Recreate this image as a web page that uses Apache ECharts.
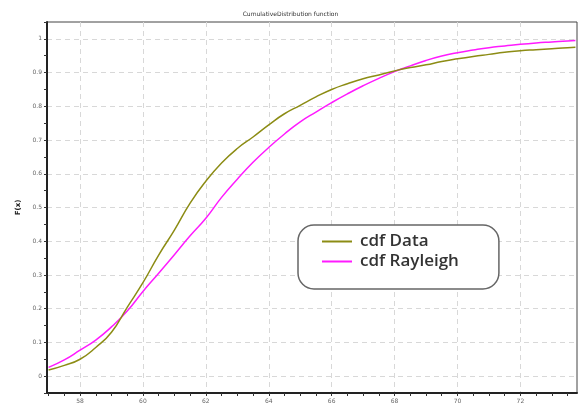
<!DOCTYPE html>
<html>
<head>
<meta charset="utf-8">
<script src="https://cdn.jsdelivr.net/npm/echarts@6/dist/echarts.min.js"></script>
<style>
html, body { margin: 0; padding: 0; background: #fff; }
#chart { width: 581px; height: 409px; }
</style>
</head>
<body>
<div id="chart"></div>
<script>
// x samples shared by both curves
const xValues = [57.0, 57.5, 58.0, 58.5, 59.0, 59.5, 60.0, 60.5, 61.0, 61.5, 62.0, 62.5, 63.0, 63.5, 64.0, 64.5, 65.0, 65.5,
	66.0, 66.5, 67.0, 67.5, 68.0, 68.5, 69.0, 69.5, 70.0, 70.5, 71.0, 71.5, 72.0, 72.5, 73.0, 73.5, 73.75]
// empirical cdf
const cdfData = [0.018, 0.032, 0.050, 0.085, 0.130, 0.204, 0.277, 0.359, 0.433, 0.513, 0.578, 0.632, 0.675, 0.709, 0.745, 0.778, 0.803, 0.828,
	0.850, 0.867, 0.882, 0.893, 0.905, 0.915, 0.923, 0.933, 0.941, 0.948, 0.954, 0.960, 0.965, 0.968, 0.971, 0.974, 0.975]
// fitted rayleigh cdf
const cdfRayleigh = [0.026, 0.048, 0.077, 0.107, 0.146, 0.193, 0.251, 0.305, 0.360, 0.416, 0.468, 0.530, 0.584, 0.634, 0.678, 0.718, 0.754, 0.783,
	0.811, 0.837, 0.861, 0.883, 0.903, 0.920, 0.936, 0.949, 0.959, 0.967, 0.974, 0.979, 0.984, 0.988, 0.991, 0.994, 0.995]

// tick labels
const xLabels = [58, 60, 62, 64, 66, 68, 70, 72]
const xMinorTicks = [57, 57.5, 58, 58.5, 59, 59.5, 60, 60.5, 61, 61.5, 62, 62.5, 63, 63.5, 64, 64.5, 65, 65.5, 66, 66.5,
	67, 67.5, 68, 68.5, 69, 69.5, 70, 70.5, 71, 71.5, 72, 72.5, 73, 73.5]
const yLabels = [0, 0.1, 0.2, 0.3, 0.4, 0.5, 0.6, 0.7, 0.8, 0.9, 1]
const yMinorTicks = [-0.05, 0, 0.05, 0.1, 0.15, 0.2, 0.25, 0.3, 0.35, 0.4, 0.45, 0.5, 0.55, 0.6, 0.65, 0.7, 0.75, 0.8, 0.85, 0.9, 0.95, 1, 1.05]

const X_MIN = 56.95
const X_MAX = 73.8
const Y_MIN = -0.05
const Y_MAX = 1.05

const chart = echarts.init(document.getElementById('chart'))

const labelStyle = { fontSize: 6, color: '#666', fontFamily: 'DejaVu Sans' }
const gridLine = { show: true, lineStyle: { color: '#d8d8d8', type: [5, 4], width: 1 } }

chart.setOption({
	animation: false,
	backgroundColor: '#fff',
	title: {
		text: 'CumulativeDistribution function',
		left: 'center',
		top: 6,
		textStyle: { fontSize: 6, fontWeight: 'normal', color: '#333', fontFamily: 'DejaVu Sans' },
	},
	grid: {
		left: 47,
		right: 4,
		top: 22,
		bottom: 16,
		show: true,
		borderColor: '#444',
		borderWidth: 1,
	},
	legend: {
		left: 298,
		top: 225,
		orient: 'vertical',
		icon: 'rect',
		padding: [8, 40, 19, 24],
		itemGap: 3,
		itemWidth: 30,
		itemHeight: 2,
		borderColor: '#666',
		borderWidth: 1.5,
		borderRadius: 16,
		backgroundColor: '#fff',
		textStyle: { fontSize: 17, color: '#333', fontFamily: 'Open Sans', fontWeight: 600, padding: [0, 0, 0, 3] },
		data: ['cdf Data', 'cdf Rayleigh'],
	},
	xAxis: [
		{
			type: 'value',
			min: X_MIN,
			max: X_MAX,
			axisLine: { show: true, onZero: false, lineStyle: { color: '#222', width: 2 } },
			axisTick: { show: true, length: 3, customValues: xMinorTicks, lineStyle: { color: '#333' } },
			axisLabel: { ...labelStyle, margin: 5, customValues: xLabels },
			splitLine: { show: false },
		},
		{
			type: 'value',
			min: X_MIN,
			max: X_MAX,
			position: 'bottom',
			axisLine: { show: false },
			axisTick: { show: false, customValues: xLabels },
			axisLabel: { show: false },
			splitLine: gridLine,
		},
	],
	yAxis: [
		{
			type: 'value',
			min: Y_MIN,
			max: Y_MAX,
			name: 'F(x)',
			nameLocation: 'middle',
			nameGap: 25,
			nameTextStyle: { fontSize: 7, fontWeight: 'bold', color: '#222', fontFamily: 'DejaVu Sans' },
			axisLine: { show: true, onZero: false, lineStyle: { color: '#222', width: 2 } },
			axisTick: { show: true, length: 3, customValues: yMinorTicks, lineStyle: { color: '#333' } },
			axisLabel: { ...labelStyle, margin: 5, customValues: yLabels },
			splitLine: { show: false },
		},
		{
			type: 'value',
			min: Y_MIN,
			max: Y_MAX,
			position: 'left',
			axisLine: { show: false },
			axisTick: { show: false, customValues: yLabels },
			axisLabel: { show: false },
			splitLine: gridLine,
		},
	],
	series: [
		{
			name: 'cdf Data',
			type: 'line',
			smooth: true,
			showSymbol: false,
			symbol: 'none',
			color: '#8c8c14',
			lineStyle: { width: 1.5, color: '#8c8c14' },
			data: xValues.map((x, i) => [x, cdfData[i]]),
			z: 3,
		},
		{
			name: 'cdf Rayleigh',
			type: 'line',
			smooth: true,
			showSymbol: false,
			symbol: 'none',
			color: '#ff1aff',
			lineStyle: { width: 1.5, color: '#ff1aff' },
			data: xValues.map((x, i) => [x, cdfRayleigh[i]]),
			z: 2,
		},
	],
})
</script>
</body>
</html>
